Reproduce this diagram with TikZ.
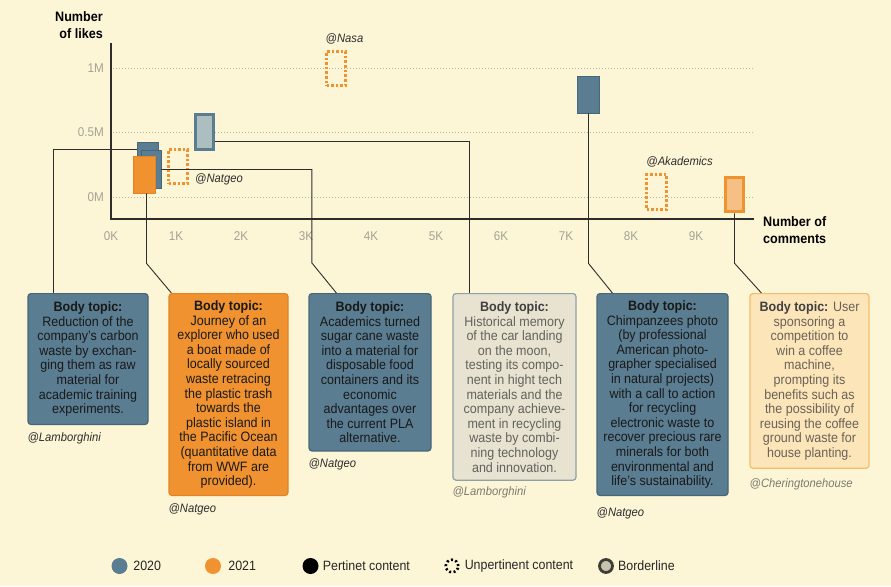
\documentclass[tikz,border=0pt]{standalone}
\usepackage{fontspec}
\setmainfont{Liberation Sans}[FakeStretch=0.92]
\usetikzlibrary{positioning}

\begin{document}
\begin{tikzpicture}[x=1pt, y=-1pt,
  every node/.style={inner sep=0pt},
  axis/.style={linegray, line width=1.2pt},
  gridline/.style={gridgray, line width=0.8pt, dash pattern=on 0.8pt off 2.2pt},
  tick/.style={tickgray, font=\fontsize{12.7}{14}\selectfont},
  axlabel/.style={font=\fontsize{13.7}{16.5}\selectfont\bfseries},
  link/.style={linegray, line width=0.9pt},
  pertblue/.style={draw=blue20dark, fill=blue20, line width=0.8pt},
  pertorange/.style={draw=orange21dark, fill=orange21, line width=0.8pt},
  unpert/.style={draw=orange21, line width=3pt, dash pattern=on 2.6pt off 2pt},
  bordblue/.style={draw=blue20, fill=bordblue, line width=3.5pt},
  bordorange/.style={draw=orange21, fill=bordorange, line width=3.5pt},
  handle/.style={font=\fontsize{12.2}{14}\selectfont\itshape, text=linegray},
  topic/.style={rounded corners=3pt, line width=1.2pt, anchor=north, align=center,
    inner xsep=2pt, inner ysep=8pt, font=\fontsize{13.6}{14.6}\selectfont},
  bluetopic/.style={topic, draw=blue20dark, fill=blue20, text=black!90},
  orangetopic/.style={topic, draw=orange21dark, fill=orange21, text=black!90},
  legdot/.style={circle, minimum size=16pt},
  legtext/.style={font=\fontsize{13.5}{15}\selectfont, text=black!85}
]

\definecolor{bgcolor}{RGB}{253,246,214}
\definecolor{blue20}{RGB}{90,125,145}
\definecolor{blue20dark}{RGB}{70,102,122}
\definecolor{orange21}{RGB}{240,146,48}
\definecolor{orange21dark}{RGB}{226,132,38}
\definecolor{bordblue}{RGB}{172,190,192}
\definecolor{bordorange}{RGB}{246,192,132}
\definecolor{moonfill}{RGB}{231,227,208}
\definecolor{moonedge}{RGB}{142,160,168}
\definecolor{moontext}{RGB}{98,98,92}
\definecolor{coffeefill}{RGB}{253,229,186}
\definecolor{coffeeedge}{RGB}{244,188,106}
\definecolor{coffeetext}{RGB}{105,98,86}
\definecolor{tickgray}{RGB}{165,162,150}
\definecolor{gridgray}{RGB}{185,180,158}
\definecolor{linegray}{RGB}{45,45,45}
\definecolor{handlegray}{RGB}{125,122,112}
\definecolor{legring}{RGB}{62,62,56}
\definecolor{legfill}{RGB}{200,196,172}

% background and frame
\fill[bgcolor] (0,0) rectangle (891,586);
\useasboundingbox (0,0) rectangle (891,586);

% grid and axes
\draw[gridline] (113,68) -- (754,68);
\draw[gridline] (113,132) -- (754,132);
\draw[gridline] (113,197) -- (754,197);
\draw[axis] (111,43) -- (111,219) -- (754,219);

\node[tick, anchor=base east] (y1) at (104,72.5) {1M};
\node[tick, anchor=base east] (y05) at (104,136.5) {0.5M};
\node[tick, anchor=base east] (y0) at (104,201.5) {0M};
\foreach \k in {0,...,9}
  \node[tick, anchor=base] (xt\k) at (111+65*\k,240.5) {\k K};

\node[axlabel, anchor=east, align=right] (ylab) at (103,25) {Number\\of likes};
\node[axlabel, anchor=west, align=left] (xlab) at (763,230) {Number of\\comments};

% glyphs
\node[pertblue, minimum width=21pt, minimum height=37pt] (carbon) at (147.5,161) {};
\node[pertblue, minimum width=20pt, minimum height=38pt] (sugar) at (151,169.5) {};
\node[pertorange, minimum width=22pt, minimum height=37pt] (journey) at (144.5,174.5) {};
\node[unpert, minimum width=19pt, minimum height=34pt] (natgeou) at (178,166.5) {};
\node[bordblue, minimum width=18pt, minimum height=35pt] (moon) at (204.5,132) {};
\node[unpert, minimum width=19pt, minimum height=34pt] (nasa) at (336,68.5) {};
\node[pertblue, minimum width=22pt, minimum height=37pt] (chimp) at (588.5,94.5) {};
\node[unpert, minimum width=20pt, minimum height=35pt] (akad) at (656.5,192) {};
\node[bordorange, minimum width=18pt, minimum height=34pt] (coffee) at (734.5,194.5) {};

\node[handle] (natgeoat) at (219,179) {@Natgeo};
\node[handle] (nasaat) at (344.5,39) {@Nasa};
\node[handle] (akadat) at (679.5,162) {@Akademics};

% topic boxes
\node[bluetopic, minimum width=120pt] (carbonbox) at (88,293)
  {\textbf{Body topic:}\\Reduction of the\\company's carbon\\waste by exchan-\\ging them as raw\\material for\\academic training\\experiments.};
\node[orangetopic, minimum width=119pt, inner ysep=7pt] (journeybox) at (228.5,293)
  {\textbf{Body topic:}\\Journey of an\\explorer who used\\a boat made of\\locally sourced\\waste retracing\\the plastic trash\\towards the\\plastic island in\\the Pacific Ocean\\(quantitative data\\from WWF are\\provided).};
\node[bluetopic, minimum width=122pt] (sugarbox) at (370,293)
  {\textbf{Body topic:}\\Academics turned\\sugar cane waste\\into a material for\\disposable food\\containers and its\\economic\\advantages over\\the current PLA\\alternative.};
\node[topic, draw=moonedge, fill=moonfill, text=moontext, minimum width=123pt] (moonbox) at (514.5,293)
  {{\color{black!75}\textbf{Body topic:}}\\Historical memory\\of the car landing\\on the moon,\\testing its compo-\\nent in hight tech\\materials and the\\company achieve-\\ment in recycling\\waste by combi-\\ning technology\\and innovation.};
\node[bluetopic, minimum width=131pt, inner ysep=7pt] (chimpbox) at (662.5,293)
  {\textbf{Body topic:}\\Chimpanzees photo\\(by professional\\American photo-\\grapher specialised\\in natural projects)\\with a call to action\\for recycling\\electronic waste to\\recover precious rare\\minerals for both\\environmental and\\life's sustainability.};
\node[topic, draw=coffeeedge, fill=coffeefill, text=coffeetext, minimum width=119pt] (coffeebox) at (809.5,293)
  {{\color{black!75}\textbf{Body topic:}} User\\sponsoring a\\competition to\\win a coffee\\machine,\\prompting its\\benefits such as\\the possibility of\\reusing the coffee\\ground waste for\\house planting.};

\node[handle, anchor=north west] (carbonat) at ([yshift=-7pt]carbonbox.south west) {@Lamborghini};
\node[handle, anchor=north west] (journeyat) at ([yshift=-7pt]journeybox.south west) {@Natgeo};
\node[handle, anchor=north west] (sugarat) at ([yshift=-7pt]sugarbox.south west) {@Natgeo};
\node[handle, anchor=north west, text=handlegray] (moonat) at ([yshift=-6pt]moonbox.south west) {@Lamborghini};
\node[handle, anchor=north west] (chimpat) at ([yshift=-11pt]chimpbox.south west) {@Natgeo};
\node[handle, anchor=north west, text=handlegray] (coffeeat) at ([yshift=-10pt]coffeebox.south west) {@Cheringtonehouse};

% connectors
\draw[link] ([yshift=-7pt]carbon.north west) -| ([xshift=-34.5pt]carbonbox.north);
\draw[link] ([xshift=2pt]journey.south) -- ++(0,70) -- ([xshift=3pt]journeybox.north west);
\draw[link] (sugar.east) -| ([xshift=3.5pt,yshift=30pt]sugarbox.north west) -- ([xshift=28pt]sugarbox.north west);
\draw[link] ([yshift=-9.5pt]moon.east) -| ([xshift=17.5pt]moonbox.north west);
\draw[link] (chimp.south) -- ++(0,150) -- ([xshift=16pt]chimpbox.north west);
\draw[link] (coffee.south) -- ++(0,50) -- ([xshift=12pt]coffeebox.north west);

% legend
\node[legdot, fill=blue20] (leg20) at (119.5,566) {};
\node[legtext, right=5.5pt of leg20] (leg20t) {2020};
\node[legdot, fill=orange21] (leg21) at (213,566) {};
\node[legtext, right=7pt of leg21] (leg21t) {2021};
\node[legdot, fill=black] (legpert) at (310.5,566) {};
\node[legtext, right=4pt of legpert] (legpertt) {Pertinet content};
\node[legdot, minimum size=12.5pt, draw=black, line width=2.6pt, dash pattern=on 2pt off 2.4pt] (legunpert) at (452,566) {};
\node[legtext, right=5pt of legunpert] (legunpertt) {Unpertinent content};
\node[legdot, minimum size=13pt, draw=legring, fill=legfill, line width=2.8pt] (legbord) at (606,566) {};
\node[legtext, right=4pt of legbord] (legbordt) {Borderline};

\end{tikzpicture}
\end{document}
